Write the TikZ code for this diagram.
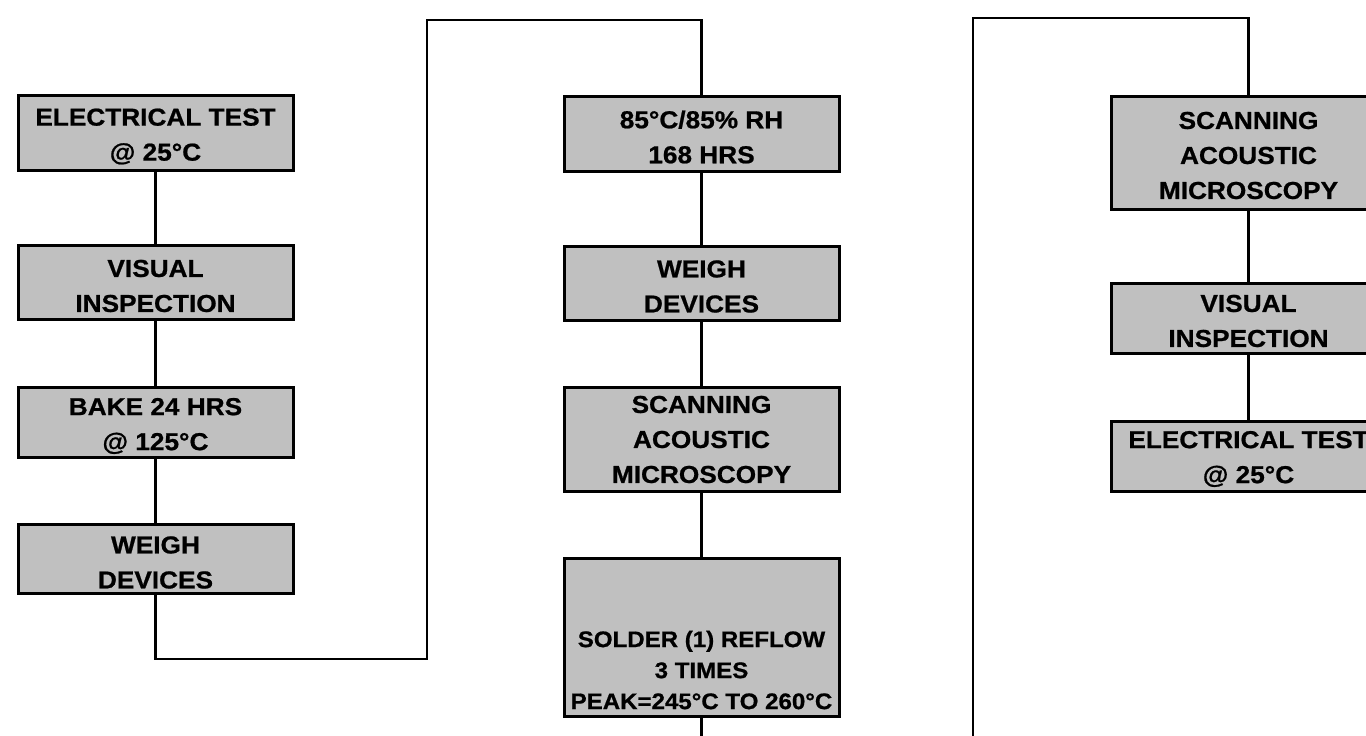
\documentclass[tikz,border=0pt]{standalone}
\usepackage{fontspec}
\setmainfont{Liberation Sans}[FakeStretch=1.07,BoldFeatures={FakeBold=0.8}]
\begin{document}
\begin{tikzpicture}[x=1pt,y=-1pt,
  box/.style={draw=black,line width=3pt,fill=boxgray,minimum width=275pt,inner sep=0pt},
  txt/.style={align=center,inner sep=0pt,font=\fontsize{24.5}{35}\selectfont\bfseries},
  smalltxt/.style={align=center,inner sep=0pt,font=\fontsize{22.5}{31}\selectfont\bfseries},
  conn/.style={draw=black,line width=2.2pt}]
\definecolor{boxgray}{HTML}{C0C0C0}
\useasboundingbox (0,0) rectangle (1366,736);
% column 1
\node[box,minimum height=75pt] (b1) at (155.5,132.5) {};
\node[box,minimum height=74pt] (b2) at (155.5,282) {};
\node[box,minimum height=70pt] (b3) at (155.5,422) {};
\node[box,minimum height=69pt] (b4) at (155.5,558.5) {};
% column 2
\node[box,minimum height=75pt] (b5) at (701.5,133.5) {};
\node[box,minimum height=74pt] (b6) at (701.5,283) {};
\node[box,minimum height=104pt] (b7) at (701.5,439) {};
\node[box,minimum height=158pt] (b8) at (701.5,637) {};
% column 3
\node[box,minimum height=113pt] (b9) at (1248.5,152.5) {};
\node[box,minimum height=70pt] (b10) at (1248.5,318) {};
\node[box,minimum height=70pt] (b11) at (1248.5,456) {};
% texts
\node[txt] (t1) at ([yshift=-4pt]b1.center) {ELECTRICAL TEST\\@ 25°C};
\node[txt] (t2) at ([yshift=-4pt]b2.center) {VISUAL\\INSPECTION};
\node[txt] (t3) at ([yshift=-4pt]b3.center) {BAKE 24 HRS\\@ 125°C};
\node[txt] (t4) at ([yshift=-4pt]b4.center) {WEIGH\\DEVICES};
\node[txt] (t5) at ([yshift=-3.5pt]b5.center) {85°C/85\% RH\\168 HRS};
\node[txt] (t6) at ([yshift=-3.5pt]b6.center) {WEIGH\\DEVICES};
\node[txt] (t7) at ([yshift=-0.5pt]b7.center) {SCANNING\\ACOUSTIC\\MICROSCOPY};
\node[smalltxt,anchor=south] (t8) at ([yshift=8pt]b8.south) {SOLDER (1) REFLOW\\3 TIMES\\PEAK=245°C TO 260°C};
\node[txt] (t9) at ([yshift=-3pt]b9.center) {SCANNING\\ACOUSTIC\\MICROSCOPY};
\node[txt] (t10) at ([yshift=-3pt]b10.center) {VISUAL\\INSPECTION};
\node[txt] (t11) at ([yshift=-3pt]b11.center) {ELECTRICAL TEST\\@ 25°C};
% free ends
\coordinate (c1a) at (155.5,659);
\coordinate (c1b) at (427,659);
\coordinate (c1c) at (427,20);
\coordinate (c1d) at (701.5,20);
\coordinate (e2) at (701.5,737);
\coordinate (c3a) at (973,737);
\coordinate (c3b) at (973,18);
\coordinate (c3c) at (1248.5,18);
% connectors
\path[conn] (b1.south) -- (b2.north);
\path[conn] (b2.south) -- (b3.north);
\path[conn] (b3.south) -- (b4.north);
\path[conn] (b4.south) -- (c1a) -- (c1b) -- (c1c) -- (c1d) -- (b5.north);
\path[conn] (b5.south) -- (b6.north);
\path[conn] (b6.south) -- (b7.north);
\path[conn] (b7.south) -- (b8.north);
\path[conn] (b8.south) -- (e2);
\path[conn] (c3a) -- (c3b) -- (c3c) -- (b9.north);
\path[conn] (b9.south) -- (b10.north);
\path[conn] (b10.south) -- (b11.north);
\end{tikzpicture}
\end{document}
